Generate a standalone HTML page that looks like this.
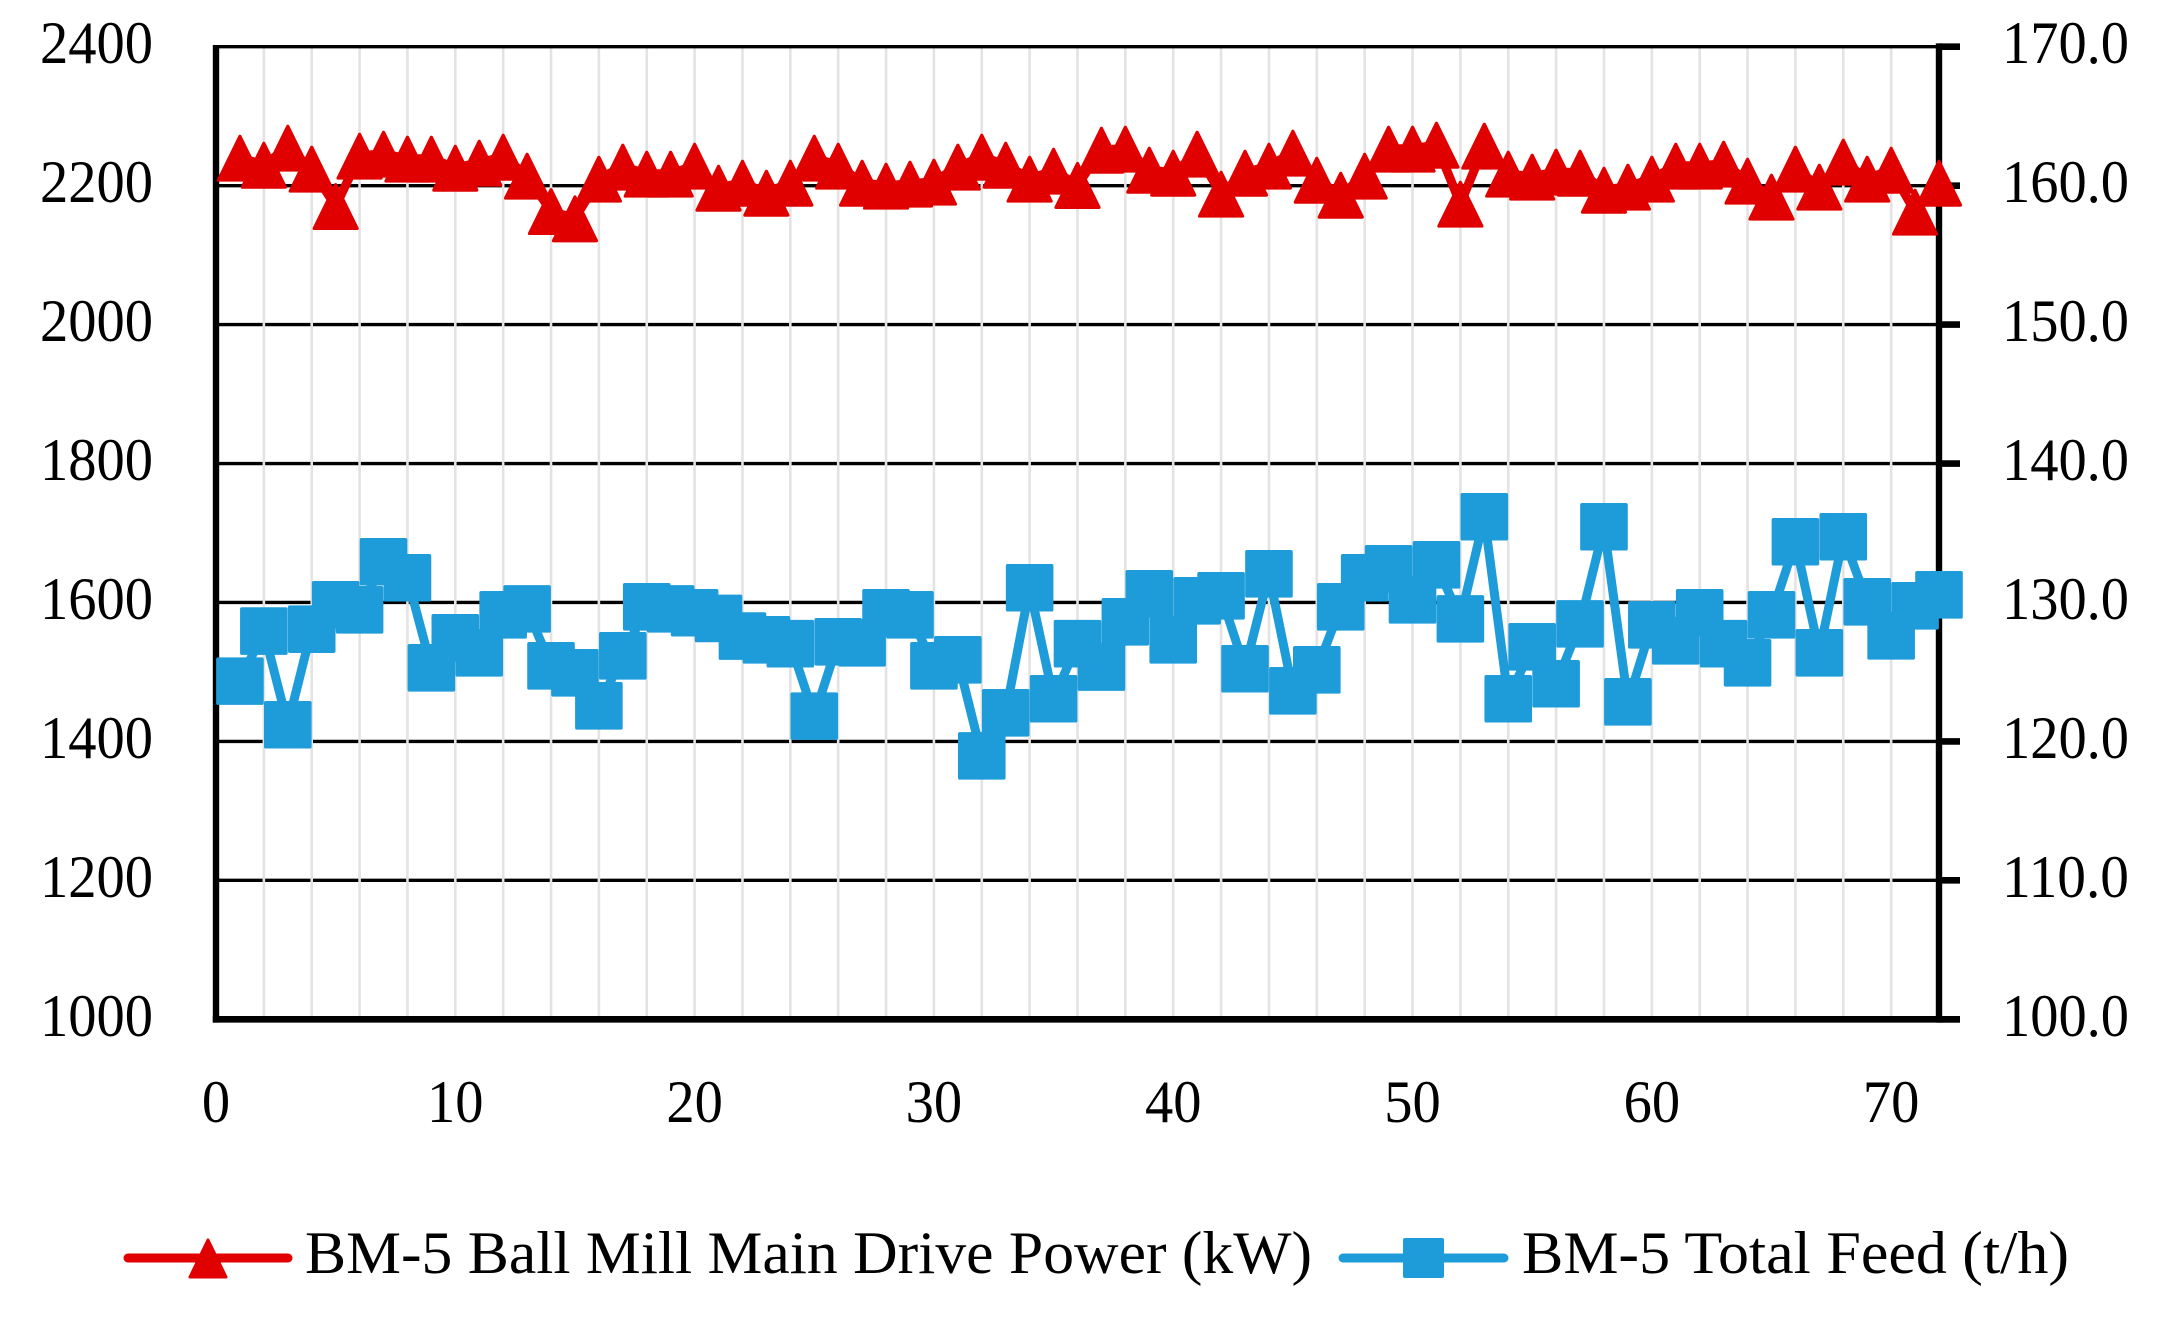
<!DOCTYPE html>
<html lang="en">
<head>
<meta charset="utf-8">
<title>BM-5 Ball Mill Power and Total Feed</title>
<style>
  html, body { margin: 0; padding: 0; background: #fff; width: 2164px; height: 1317px; overflow: hidden; }
  svg { display: block; }
  text { font-family: "Liberation Serif", serif; fill: #000; font-size: 60.5px; }
</style>
</head>
<body>
<svg id="chart" xmlns="http://www.w3.org/2000/svg" width="2164" height="1317" viewBox="0 0 2164 1317">
  <g id="h-grid"></g>
  <g id="v-grid"></g>
  <g id="axes"></g>
  <g id="left-labels"></g>
  <g id="right-labels"></g>
  <g id="x-labels"></g>
  <g id="power-series"></g>
  <g id="feed-series"></g>
  <g>
    <g>
      <line x1="128" y1="1258" x2="288" y2="1258" stroke="#e00000" stroke-width="9" stroke-linecap="round"/>
      <polygon points="208,1240 226,1277 190,1277" fill="#e00000" stroke="#e00000" stroke-width="3" stroke-linejoin="round"/>
      <text x="305" y="1273" textLength="1007" lengthAdjust="spacingAndGlyphs">BM-5 Ball Mill Main Drive Power (kW)</text>
    </g>
    <g>
      <line x1="1343" y1="1258" x2="1504" y2="1258" stroke="#1e9cd9" stroke-width="9" stroke-linecap="round"/>
      <rect x="1405" y="1240" width="37" height="36" fill="#1e9cd9" stroke="#1e9cd9" stroke-width="4" stroke-linejoin="round"/>
      <text x="1522" y="1273" textLength="547" lengthAdjust="spacingAndGlyphs">BM-5 Total Feed (t/h)</text>
    </g>
  </g>
</svg>
<script>
const leftTicks = [1000, 1200, 1400, 1600, 1800, 2000, 2200, 2400];
const rightTicks = ["100.0", "110.0", "120.0", "130.0", "140.0", "150.0", "160.0", "170.0"];
const xTicks = [0, 10, 20, 30, 40, 50, 60, 70];
const xMinorTicks = [2,4,6,8,10,12,14,16,18,20,22,24,26,28,30,32,34,36,38,40,42,44,46,48,50,52,54,56,58,60,62,64,66,68,70];
const samples = [1,2,3,4,5,6,7,8,9,10,11,12,13,14,15,16,17,18,19,20,21,22,23,24,25,26,27,28,29,30,31,32,33,34,35,36,37,38,39,40,41,42,43,44,45,46,47,48,49,50,51,52,53,54,55,56,57,58,59,60,61,62,63,64,65,66,67,68,69,70,71,72];
const powerKw = [2240.1,2230.0,2254.5,2224.3,2170.5,2243.0,2245.9,2238.7,2238.7,2225.7,2232.9,2241.5,2214.2,2163.3,2152.8,2209.9,2227.2,2217.1,2217.1,2228.6,2196.9,2204.1,2189.7,2204.1,2240.1,2228.6,2204.1,2199.8,2202.7,2205.6,2227.2,2241.5,2230.0,2209.9,2221.4,2200.8,2251.6,2253.1,2222.8,2218.5,2245.9,2188.3,2218.5,2228.6,2247.3,2208.4,2186.8,2214.2,2253.1,2253.1,2258.8,2173.9,2257.4,2217.1,2212.8,2220.0,2218.5,2194.0,2198.4,2209.9,2228.6,2228.6,2231.5,2207.0,2184.0,2224.3,2198.4,2234.4,2209.9,2222.8,2162.4,2204.1];
const feedTph = [124.34,127.94,121.20,128.08,129.83,129.47,132.93,131.78,125.30,127.46,126.38,129.11,129.54,125.44,124.94,122.56,126.16,129.69,129.54,129.26,128.85,127.58,127.31,127.03,121.82,127.17,127.10,129.26,129.11,125.44,125.87,118.96,122.06,131.06,123.07,127.03,125.35,128.61,130.62,127.31,130.12,130.48,125.23,132.06,123.64,125.15,129.69,131.78,132.42,130.19,132.71,128.82,136.17,123.07,126.81,124.15,128.46,135.45,122.85,128.39,127.24,129.26,127.03,125.66,129.11,134.37,126.38,134.73,130.05,127.60,129.76,130.55];

const NS = "http://www.w3.org/2000/svg";
const plot = { left: 216, right: 1939, top: 46.7, bottom: 1019.3 };
const xMax = 72, leftMin = 1000, leftMax = 2400, rightMin = 100, rightMax = 170;
const digitWidth = 28.25;
const xScale = v => plot.left + (v / xMax) * (plot.right - plot.left);
const yLeft = v => plot.bottom - (v - leftMin) / (leftMax - leftMin) * (plot.bottom - plot.top);
const yRight = v => plot.bottom - (v - rightMin) / (rightMax - rightMin) * (plot.bottom - plot.top);

function mk(tag, attrs, parent) {
  const el = document.createElementNS(NS, tag);
  for (const k in attrs) el.setAttribute(k, attrs[k]);
  parent.appendChild(el);
  return el;
}

const hGrid = document.getElementById("h-grid");
const vGrid = document.getElementById("v-grid");
const axes = document.getElementById("axes");
const leftLabels = document.getElementById("left-labels");
const rightLabels = document.getElementById("right-labels");
const xLabels = document.getElementById("x-labels");
const powerSeries = document.getElementById("power-series");
const feedSeries = document.getElementById("feed-series");

leftTicks.slice(1, -1).forEach(t => {
  const g = mk("line", { x1: plot.left, x2: plot.right, y1: yLeft(t), y2: yLeft(t), stroke: "#000", "stroke-width": 3.4 }, hGrid);
  
  
});

xMinorTicks.forEach(t => {
  const g = mk("line", { x1: xScale(t), x2: xScale(t), y1: plot.top, y2: plot.bottom, stroke: "#e3e3e3", "stroke-width": 2.6 }, vGrid);
  
  
});

const topLine = mk("line", { x1: plot.left, x2: plot.right, y1: plot.top, y2: plot.top, stroke: "#000", "stroke-width": 3.4 }, axes);


const leftAxis = mk("line", { x1: plot.left, x2: plot.left, y1: plot.top - 1.7, y2: plot.bottom + 3.3, stroke: "#000", "stroke-width": 6.4 }, axes);


const rightAxis = mk("line", { x1: plot.right, x2: plot.right, y1: plot.top - 3.3, y2: plot.bottom + 3.3, stroke: "#000", "stroke-width": 6.4 }, axes);


const bottomAxis = mk("line", { x1: plot.left - 3.2, x2: 1960, y1: plot.bottom, y2: plot.bottom, stroke: "#000", "stroke-width": 6.6 }, axes);



leftTicks.forEach(t => {
  const el = mk("text", { x: 153, y: yLeft(t) + 16.5, "text-anchor": "end", textLength: digitWidth * String(t).length, lengthAdjust: "spacingAndGlyphs" }, leftLabels);
  el.textContent = t;
  
  
});

rightTicks.forEach(t => {
  const y = yRight(parseFloat(t));
  const tick = mk("line", { x1: plot.right, x2: 1960, y1: y, y2: y, stroke: "#000", "stroke-width": 6.6 }, axes);
  
  
  const el = mk("text", { x: 2129, y: y + 16.5, "text-anchor": "end", textLength: 127, lengthAdjust: "spacingAndGlyphs" }, rightLabels);
  el.textContent = t;
  
  
});

xTicks.forEach(t => {
  const el = mk("text", { x: xScale(t), y: 1122, "text-anchor": "middle", textLength: digitWidth * String(t).length, lengthAdjust: "spacingAndGlyphs" }, xLabels);
  el.textContent = t;
  
  
});

const powerLine = mk("polyline", {
  points: samples.map((s, i) => xScale(s) + "," + yLeft(powerKw[i])).join(" "),
  fill: "none", stroke: "#e00000", "stroke-width": 9, "stroke-linejoin": "round"
}, powerSeries);



samples.forEach((s, i) => {
  const cx = xScale(s), cy = yLeft(powerKw[i]);
  const p = mk("polygon", {
    points: cx + "," + (cy - 21.5) + " " + (cx + 21.5) + "," + (cy + 22.3) + " " + (cx - 21.5) + "," + (cy + 22.3),
    fill: "#e00000", stroke: "#e00000", "stroke-width": 3.2, "stroke-linejoin": "round"
  }, powerSeries);
  
  
});

const feedLine = mk("polyline", {
  points: samples.map((s, i) => xScale(s) + "," + yRight(feedTph[i])).join(" "),
  fill: "none", stroke: "#1e9cd9", "stroke-width": 9, "stroke-linejoin": "round"
}, feedSeries);



samples.forEach((s, i) => {
  const cx = xScale(s), cy = yRight(feedTph[i]);
  const r = mk("rect", {
    x: cx - 22, y: cy - 22, width: 44, height: 44,
    fill: "#1e9cd9", stroke: "#1e9cd9", "stroke-width": 3.6, "stroke-linejoin": "round"
  }, feedSeries);
  
  
});
</script>
</body>
</html>
